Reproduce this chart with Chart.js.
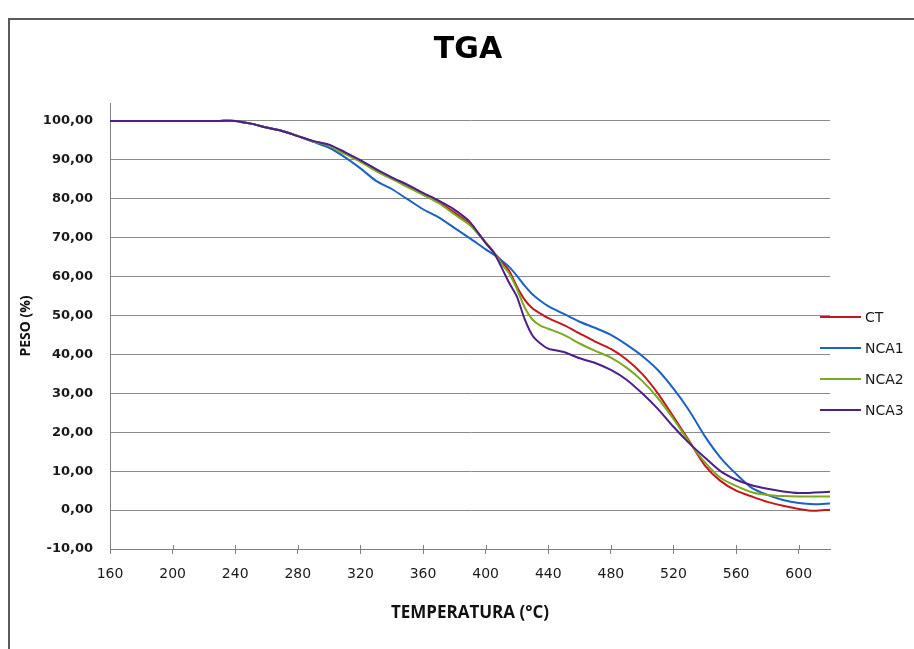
<!DOCTYPE html>
<html>
<head>
<meta charset="utf-8">
<script src="https://cdn.jsdelivr.net/npm/chart.js@4.4.1/dist/chart.umd.min.js"></script>
<style>
  html, body { margin: 0; padding: 0; background: #fff; }
  #wrap { width: 914px; height: 649px; position: relative; }
</style>
</head>
<body>
<div id="wrap"><canvas id="c" width="914" height="649"></canvas></div>
<script>
// ---- data ----
const chartTitle = "TGA";
const xTitle = "TEMPERATURA (°C)";
const yTitle = "PESO (%)";
const seriesNames = ["CT", "NCA1", "NCA2", "NCA3"];

const temps = [160,170,180,190,200,210,220,230,240,250,260,270,280,290,
  300,310,320,330,340,350,360,370,380,390,400,405,410,415,420,425,430,435,440,
  450,460,470,480,490,500,510,520,530,540,550,560,570,580,590,600,610,620];

const ct = [100,100,100,100,100,100,100,100,100,99.3,98.3,97.4,96.1,94.7,
  93.7,91.7,89.7,87.3,85.3,83.2,81.2,79.1,76.5,73.4,68.8,66.3,64.0,61.5,57.4,54.0,51.8,50.5,49.3,
  47.5,45.4,43.3,41.4,38.7,35.0,30.0,24.0,17.8,11.5,7.5,5.0,3.5,2.1,1.1,0.3,-0.2,0.1];

const nca1 = [100,100,100,100,100,100,100,100,100,99.3,98.3,97.4,96.1,94.6,
  93.1,90.7,87.8,84.6,82.5,79.9,77.3,75.2,72.5,69.8,67.0,65.7,64.2,62.5,60.2,57.6,55.4,53.8,52.4,
  50.4,48.4,46.8,45.0,42.5,39.6,36.0,31.2,25.6,19.0,13.5,9.3,5.7,3.9,2.6,1.8,1.5,1.7];

const nca2 = [100,100,100,100,100,100,100,100,100,99.3,98.3,97.4,96.1,94.7,
  93.6,91.5,89.5,87.1,85.1,83.0,81.0,78.9,76.0,73.2,68.8,66.3,63.3,60.8,56.8,52.0,48.9,47.4,46.6,
  45.0,42.8,40.9,39.2,36.6,33.2,28.8,23.4,17.5,12.3,8.3,6.2,4.6,3.9,3.6,3.5,3.5,3.5];

const nca3 = [100,100,100,100,100,100,100,100,100,99.3,98.3,97.4,96.1,94.8,
  93.9,92.0,89.9,87.6,85.5,83.6,81.5,79.5,77.2,74.0,68.6,66.3,62.5,58.4,54.8,49.0,44.8,42.8,41.5,
  40.6,39.0,37.8,36.0,33.5,30.0,26.0,21.4,17.2,13.5,10.0,7.8,6.4,5.5,4.8,4.4,4.5,4.7];

const seriesValues = [ct, nca1, nca2, nca3];
const seriesColors = ["#c0181c", "#1a62c4", "#7aab1e", "#4e1e8a"];

// ---- chart ----
const datasets = seriesValues.map((vals, i) => ({
  label: seriesNames[i],
  data: temps.map((t, j) => ({ x: t, y: vals[j] })),
  borderColor: seriesColors[i],
  backgroundColor: seriesColors[i],
  borderWidth: 2,
  pointRadius: 0,
  tension: 0.25,
  order: seriesValues.length - 1 - i
}));

const decor = {
  id: 'decor',
  beforeDraw(chart) {
    const ctx = chart.ctx;
    ctx.save();
    ctx.fillStyle = '#ffffff';
    ctx.fillRect(0, 0, chart.width, chart.height);
    ctx.restore();
  },
  afterDraw(chart) {
    const ctx = chart.ctx;
    const area = chart.chartArea;
    ctx.save();
    // outer frame
    ctx.strokeStyle = '#5a5a5a';
    ctx.lineWidth = 2;
    ctx.strokeRect(9, 19, chart.width + 20, chart.height + 20);
    // title
    ctx.fillStyle = '#000';
    ctx.font = 'bold 30px "DejaVu Sans"';
    ctx.textAlign = 'center';
    ctx.textBaseline = 'middle';
    ctx.fillText(chartTitle, 468, 50);
    // small tick marks above x axis
    const xs = chart.scales.x;
    ctx.strokeStyle = '#808080';
    ctx.lineWidth = 1;
    xs.ticks.forEach(t => {
      const px = Math.round(xs.getPixelForValue(t.value)) + 0.5;
      ctx.beginPath();
      ctx.moveTo(px, area.bottom - 4);
      ctx.lineTo(px, area.bottom);
      ctx.stroke();
    });
    // legend
    ctx.font = '14px "DejaVu Sans"';
    ctx.textAlign = 'left';
    ctx.textBaseline = 'middle';
    chart.data.datasets.forEach((ds, i) => {
      const y = 317 + i * 31;
      ctx.strokeStyle = ds.borderColor;
      ctx.lineWidth = 2;
      ctx.beginPath();
      ctx.moveTo(820, y);
      ctx.lineTo(861, y);
      ctx.stroke();
      ctx.fillStyle = '#1a1a1a';
      ctx.fillText(ds.label, 865, y + 1);
    });
    ctx.restore();
  }
};

new Chart(document.getElementById('c'), {
  type: 'line',
  data: { datasets },
  options: {
    responsive: false,
    animation: false,
    layout: { padding: { top: 103, right: 84, left: 0, bottom: 0 } },
    plugins: { legend: { display: false }, title: { display: false }, tooltip: { enabled: false } },
    scales: {
      x: {
        type: 'linear',
        min: 160,
        max: 620,
        afterFit: s => { s.height = 100; },
        afterBuildTicks: s => { s.ticks = s.ticks.filter(t => t.value <= 600); },
        ticks: {
          stepSize: 40,
          includeBounds: false,
          autoSkip: false,
          padding: 12,
          maxRotation: 0,
          color: '#1a1a1a',
          font: { family: 'DejaVu Sans', size: 14 },
          callback: v => String(v)
        },
        grid: {
          drawOnChartArea: false,
          drawTicks: true,
          tickLength: 5,
          color: '#808080'
        },
        border: { display: true, color: '#808080', width: 1 },
        title: {
          display: true,
          text: xTitle,
          color: '#111',
          font: { family: 'Open Sans', size: 17, weight: 'bold' },
          padding: { top: 0, bottom: 26 }
        }
      },
      y: {
        min: -10,
        max: 104.6,
        afterFit: s => { s.width = 110; },
        afterBuildTicks: s => { s.ticks = s.ticks.filter(t => t.value <= 100); },
        ticks: {
          stepSize: 10,
          includeBounds: false,
          autoSkip: false,
          padding: 17,
          color: '#1a1a1a',
          font: { family: 'DejaVu Sans', size: 13, weight: 'bold' },
          callback: v => v.toFixed(2).replace('.', ',')
        },
        grid: {
          drawTicks: false,
          color: '#8c8c8c',
          lineWidth: 1
        },
        border: { display: true, color: '#808080', width: 1 },
        title: {
          display: true,
          text: yTitle,
          color: '#111',
          font: { family: 'Open Sans', size: 14, weight: 'bold' },
          padding: { top: 18, bottom: 0 }
        }
      }
    }
  },
  plugins: [decor]
});
</script>
</body>
</html>
